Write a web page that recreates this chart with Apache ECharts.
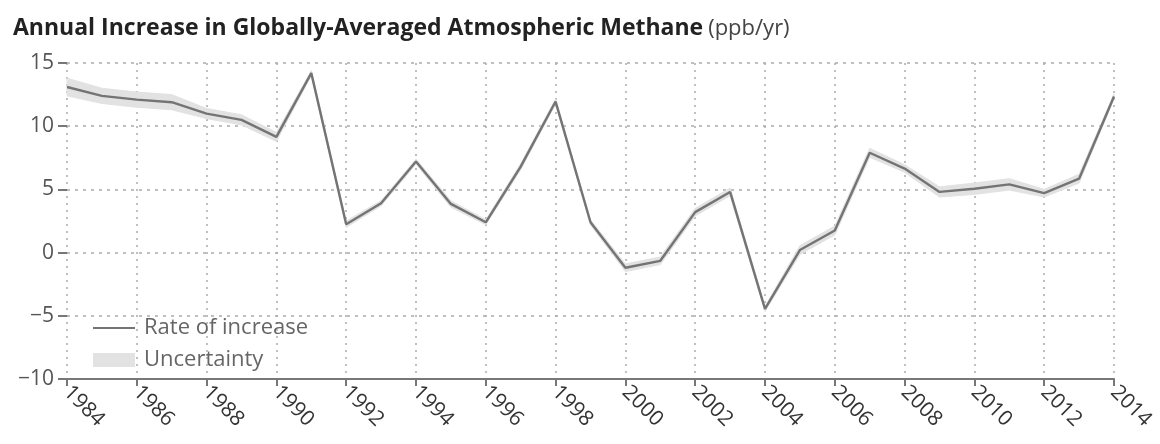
<!DOCTYPE html>
<html>
<head>
<meta charset="utf-8">
<script src="https://cdn.jsdelivr.net/npm/echarts@6/dist/echarts.min.js"></script>
<style>
  html, body { margin: 0; padding: 0; background: #fff; }
  #chart { width: 1160px; height: 444px; }
</style>
</head>
<body>
<div id="chart"></div>
<script>
// Annual growth rate of globally-averaged atmospheric methane (ppb/yr)
const years = [1984, 1985, 1986, 1987, 1988, 1989, 1990, 1991, 1992, 1993,
               1994, 1995, 1996, 1997, 1998, 1999, 2000, 2001, 2002, 2003,
               2004, 2005, 2006, 2007, 2008, 2009, 2010, 2011, 2012, 2013, 2014];
const rate = [13.1, 12.4, 12.1, 11.9, 11.0, 10.5, 9.15, 14.2, 2.25, 3.9,
              7.2, 3.85, 2.4, 6.8, 11.95, 2.4, -1.2, -0.65, 3.2, 4.8,
              -4.45, 0.2, 1.75, 7.9, 6.65, 4.8, 5.05, 5.4, 4.7, 5.85, 12.35];
// half-width of the uncertainty band
const uncertainty = [0.7, 0.6, 0.6, 0.6, 0.4, 0.4, 0.35, 0.2, 0.25, 0.2,
                     0.2, 0.25, 0.2, 0.25, 0.2, 0.2, 0.3, 0.3, 0.3, 0.3,
                     0.2, 0.35, 0.35, 0.35, 0.3, 0.4, 0.45, 0.45, 0.3, 0.35, 0.2];
const yTicks = { min: -10, max: 15, step: 5 };
const xTicks = { min: 1984, max: 2014, step: 2 };

const FONT = '"Open Sans", Lato, sans-serif';
const LINE_COLOR = '#747474';
const BAND_COLOR = '#e2e2e2';

const lineData = years.map((y, i) => [y, rate[i]]);
const bandData = years.map((y, i) => [y, rate[i] - uncertainty[i], rate[i] + uncertainty[i]]);

// Draws the whole uncertainty envelope as one polygon through the axis scales
function renderBand(params, api) {
  if (params.dataIndex !== 0) return null;
  const upper = [], lower = [];
  for (let i = 0; i < bandData.length; i++) {
    upper.push(api.coord([bandData[i][0], bandData[i][2]]));
    lower.push(api.coord([bandData[i][0], bandData[i][1]]));
  }
  return {
    type: 'polygon',
    shape: { points: upper.concat(lower.reverse()) },
    style: { fill: BAND_COLOR, stroke: BAND_COLOR, lineWidth: 1 }
  };
}

const legendText = { fontFamily: FONT, fontSize: 22, color: '#666', padding: [0, 0, 0, 4] };

const chart = echarts.init(document.getElementById('chart'), null, { renderer: 'canvas' });
chart.setOption({
  animation: false,
  backgroundColor: '#ffffff',
  title: {
    left: 8, top: 12,
    text: '{b|Annual Increase in Globally-Averaged Atmospheric Methane} {n|(ppb/yr)}',
    textStyle: {
      rich: {
        b: { fontFamily: FONT, fontWeight: 'bold', fontSize: 23, color: '#222' },
        n: { fontFamily: FONT, fontWeight: 'normal', fontSize: 22, color: '#444' }
      }
    }
  },
  legend: [
    {
      left: 88, top: 312,
      itemWidth: 42, itemHeight: 2,
      textStyle: legendText,
      data: [{ name: 'Rate of increase', icon: 'rect', itemStyle: { color: LINE_COLOR } }]
    },
    {
      left: 88, top: 344,
      itemWidth: 42, itemHeight: 14,
      textStyle: legendText,
      data: [{ name: 'Uncertainty', icon: 'rect', itemStyle: { color: BAND_COLOR } }]
    }
  ],
  grid: { left: 67, right: 46, top: 63, bottom: 65, containLabel: false },
  xAxis: {
    type: 'value',
    min: xTicks.min, max: xTicks.max, interval: xTicks.step,
    axisLine: { show: true, onZero: false, lineStyle: { color: '#777', width: 2 } },
    axisTick: { show: true, length: 7, lineStyle: { color: '#777', width: 2 } },
    axisLabel: {
      rotate: -45, margin: 10,
      fontFamily: FONT, fontSize: 21, color: '#333',
      formatter: v => String(v)
    },
    splitLine: { show: true, lineStyle: { color: '#aaa', type: [2, 5], width: 1.5 } }
  },
  yAxis: {
    type: 'value',
    min: yTicks.min, max: yTicks.max, interval: yTicks.step,
    axisLine: { show: false },
    axisTick: { show: true, length: 9, lineStyle: { color: '#777', width: 2 } },
    axisLabel: {
      margin: 13,
      fontFamily: FONT, fontSize: 21, color: '#555',
      formatter: v => String(v).replace('-', '\u2212')
    },
    splitLine: { show: true, lineStyle: { color: '#aaa', type: [3, 5], width: 1.5 } }
  },
  series: [
    {
      name: 'Uncertainty',
      type: 'custom',
      renderItem: renderBand,
      data: bandData,
      encode: { x: 0, y: [1, 2] },
      itemStyle: { color: BAND_COLOR },
      silent: true,
      z: 2
    },
    {
      name: 'Rate of increase',
      type: 'line',
      data: lineData,
      symbol: 'none',
      itemStyle: { color: LINE_COLOR },
      lineStyle: { color: LINE_COLOR, width: 2.4 },
      z: 5
    }
  ]
});
</script>
</body>
</html>
